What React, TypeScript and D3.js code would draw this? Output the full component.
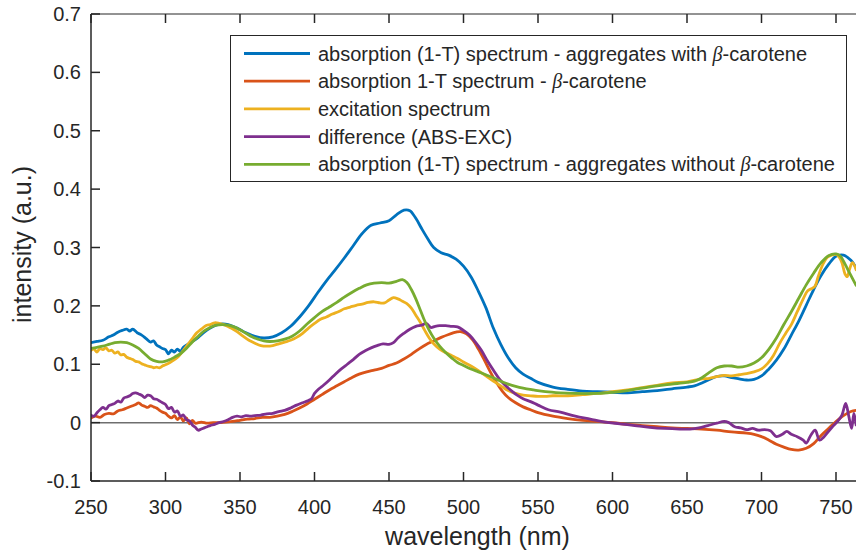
import React from "react";
import * as d3 from "d3";

const W = 856;
const H = 554;

// axis ticks
const xTicks = [250, 300, 350, 400, 450, 500, 550, 600, 650, 700, 750];
const yTicks = [-0.1, 0, 0.1, 0.2, 0.3, 0.4, 0.5, 0.6, 0.7];
const yTickLabels = ["-0.1", "0", "0.1", "0.2", "0.3", "0.4", "0.5", "0.6", "0.7"];

// legend entries (the beta is set in italics)
const legendPre = [
  "absorption (1-T) spectrum - aggregates with ",
  "absorption 1-T spectrum - ",
  "excitation spectrum",
  "difference (ABS-EXC)",
  "absorption (1-T) spectrum - aggregates without ",
];
const legendBeta = [true, true, false, false, true];
const seriesColors = ["#0072BD", "#D95319", "#EDB120", "#7E2F8E", "#77AC30"];

// [wavelength nm, intensity a.u.]
const absWithBeta: [number, number][] = [
  [250, 0.137], [254, 0.139], [258, 0.141], [262, 0.147], [265, 0.150], [268, 0.155],
  [271, 0.158], [274, 0.160], [276, 0.157], [278, 0.160], [281, 0.154], [284, 0.150],
  [287, 0.144], [290, 0.138], [292, 0.140], [294, 0.133], [296, 0.130], [298, 0.127],
  [300, 0.125], [302, 0.118], [304, 0.124], [306, 0.121], [308, 0.126], [310, 0.122],
  [312, 0.129], [315, 0.134], [318, 0.139], [322, 0.146], [326, 0.155], [330, 0.162],
  [334, 0.167], [338, 0.169], [342, 0.168], [348, 0.162], [354, 0.154], [360, 0.148],
  [366, 0.145], [372, 0.147], [378, 0.154], [384, 0.165], [390, 0.181], [396, 0.200],
  [402, 0.222], [408, 0.243], [414, 0.262], [420, 0.282], [426, 0.303], [432, 0.324],
  [438, 0.338], [444, 0.342], [450, 0.346], [455, 0.356], [460, 0.364], [464, 0.363],
  [468, 0.350], [472, 0.332], [476, 0.315], [480, 0.300], [485, 0.291], [490, 0.287],
  [495, 0.280], [500, 0.268], [505, 0.250], [510, 0.225], [515, 0.197], [520, 0.162],
  [525, 0.134], [530, 0.111], [535, 0.094], [540, 0.083], [545, 0.076], [550, 0.069],
  [560, 0.061], [570, 0.057], [580, 0.054], [590, 0.053], [600, 0.052], [610, 0.051],
  [620, 0.053], [630, 0.055], [640, 0.058], [650, 0.061], [655, 0.063], [660, 0.068],
  [665, 0.074], [670, 0.079], [675, 0.080], [680, 0.077], [685, 0.075], [690, 0.073],
  [695, 0.074], [700, 0.080], [705, 0.092], [710, 0.107], [715, 0.126], [720, 0.150],
  [725, 0.174], [730, 0.201], [735, 0.228], [740, 0.252], [745, 0.271], [750, 0.285],
  [755, 0.287], [760, 0.278], [763.5, 0.265],
];

const absBeta: [number, number][] = [
  [250, 0.008], [253, 0.011], [256, 0.009], [259, 0.014], [262, 0.016], [265, 0.015],
  [268, 0.020], [271, 0.022], [274, 0.025], [277, 0.028], [280, 0.031], [282, 0.034],
  [284, 0.030], [286, 0.028], [288, 0.026], [290, 0.029], [292, 0.027], [294, 0.025],
  [296, 0.021], [298, 0.018], [300, 0.016], [302, 0.011], [304, 0.008], [306, 0.012],
  [308, 0.005], [310, 0.010], [312, 0.003], [314, 0.008], [316, -0.002], [318, 0.004],
  [320, -0.001], [324, 0.001], [328, -0.001], [332, 0.0], [336, 0.0], [340, 0.001],
  [345, 0.002], [350, 0.004], [355, 0.006], [360, 0.007], [365, 0.009], [370, 0.009],
  [375, 0.011], [380, 0.014], [385, 0.019], [390, 0.025], [395, 0.032], [400, 0.040],
  [405, 0.048], [410, 0.056], [415, 0.063], [420, 0.070], [425, 0.077], [430, 0.083],
  [435, 0.087], [440, 0.090], [445, 0.093], [450, 0.098], [455, 0.102], [460, 0.109],
  [465, 0.117], [470, 0.126], [475, 0.134], [480, 0.140], [485, 0.146], [490, 0.151],
  [495, 0.155], [498, 0.156], [502, 0.152], [506, 0.142], [510, 0.126], [514, 0.107],
  [518, 0.087], [522, 0.069], [526, 0.054], [530, 0.043], [535, 0.034], [540, 0.027],
  [545, 0.022], [550, 0.017], [560, 0.011], [570, 0.007], [580, 0.004], [590, 0.002],
  [600, 0.0], [610, -0.003], [620, -0.005], [630, -0.007], [640, -0.009], [650, -0.010],
  [660, -0.011], [670, -0.013], [680, -0.016], [690, -0.018], [695, -0.020], [700, -0.024],
  [705, -0.030], [710, -0.037], [715, -0.042], [720, -0.046], [725, -0.047], [730, -0.044],
  [735, -0.036], [740, -0.022], [745, -0.010], [750, 0.002], [755, 0.012], [760, 0.019],
  [763.5, 0.021],
];

const excitation: [number, number][] = [
  [250, 0.124], [252, 0.126], [254, 0.121], [256, 0.127], [258, 0.125], [260, 0.128],
  [262, 0.123], [264, 0.124], [266, 0.119], [268, 0.121], [270, 0.116], [272, 0.117],
  [274, 0.112], [276, 0.110], [278, 0.108], [280, 0.105], [282, 0.104], [284, 0.101],
  [286, 0.099], [288, 0.097], [290, 0.096], [292, 0.094], [294, 0.095], [296, 0.094],
  [298, 0.097], [300, 0.099], [303, 0.103], [306, 0.108], [309, 0.114], [312, 0.124],
  [315, 0.134], [318, 0.144], [321, 0.154], [324, 0.160], [327, 0.166], [330, 0.168],
  [333, 0.171], [336, 0.170], [340, 0.167], [344, 0.162], [348, 0.156], [352, 0.148],
  [356, 0.141], [360, 0.136], [364, 0.132], [368, 0.131], [372, 0.132], [376, 0.135],
  [380, 0.138], [384, 0.141], [388, 0.146], [392, 0.153], [396, 0.162], [400, 0.170],
  [404, 0.177], [408, 0.181], [412, 0.186], [416, 0.190], [420, 0.195], [424, 0.198],
  [428, 0.201], [432, 0.203], [436, 0.206], [440, 0.207], [444, 0.205], [447, 0.205],
  [450, 0.210], [453, 0.214], [456, 0.212], [459, 0.208], [462, 0.204], [465, 0.196],
  [468, 0.184], [471, 0.172], [474, 0.158], [477, 0.145], [480, 0.135], [484, 0.126],
  [488, 0.120], [492, 0.115], [496, 0.110], [500, 0.104], [505, 0.097], [510, 0.089],
  [515, 0.080], [520, 0.071], [525, 0.063], [530, 0.055], [535, 0.050], [540, 0.047],
  [545, 0.046], [550, 0.045], [555, 0.045], [560, 0.046], [570, 0.046], [580, 0.048],
  [590, 0.050], [600, 0.053], [610, 0.056], [620, 0.060], [630, 0.064], [640, 0.068],
  [650, 0.070], [660, 0.075], [665, 0.076], [670, 0.079], [675, 0.081], [680, 0.080],
  [685, 0.082], [690, 0.084], [695, 0.087], [700, 0.092], [704, 0.101], [708, 0.115],
  [712, 0.135], [716, 0.152], [720, 0.168], [724, 0.190], [728, 0.212], [731, 0.226],
  [734, 0.230], [736, 0.234], [738, 0.250], [741, 0.270], [744, 0.283], [747, 0.287],
  [750, 0.288], [752, 0.284], [754, 0.274], [756, 0.255], [757.5, 0.250], [759, 0.262],
  [761, 0.274], [763.5, 0.262],
];

const difference: [number, number][] = [
  [250, 0.013], [252, 0.011], [254, 0.017], [256, 0.022], [258, 0.026], [260, 0.023],
  [262, 0.029], [264, 0.031], [266, 0.033], [268, 0.037], [270, 0.035], [272, 0.042],
  [274, 0.044], [276, 0.046], [278, 0.050], [280, 0.051], [282, 0.049], [284, 0.047],
  [286, 0.043], [288, 0.047], [290, 0.046], [292, 0.041], [294, 0.040], [296, 0.037],
  [298, 0.034], [300, 0.031], [302, 0.024], [304, 0.026], [306, 0.018], [308, 0.020],
  [310, 0.011], [312, 0.013], [314, 0.005], [316, 0.003], [318, -0.004], [320, -0.008],
  [322, -0.013], [324, -0.011], [326, -0.009], [328, -0.007], [330, -0.005], [333, -0.003],
  [336, 0.0], [339, 0.002], [342, 0.005], [345, 0.009], [348, 0.011], [351, 0.010],
  [354, 0.012], [357, 0.011], [360, 0.012], [364, 0.013], [368, 0.015], [372, 0.016],
  [376, 0.019], [380, 0.021], [384, 0.025], [388, 0.030], [392, 0.034], [396, 0.038],
  [398, 0.041], [400, 0.050], [403, 0.058], [406, 0.064], [410, 0.073], [414, 0.083],
  [418, 0.092], [422, 0.100], [426, 0.108], [430, 0.117], [434, 0.123], [438, 0.128],
  [442, 0.132], [446, 0.135], [450, 0.134], [453, 0.137], [456, 0.145], [460, 0.153],
  [464, 0.160], [468, 0.165], [472, 0.167], [475, 0.170], [478, 0.163], [481, 0.165],
  [484, 0.166], [488, 0.166], [492, 0.165], [496, 0.164], [500, 0.158], [504, 0.150],
  [508, 0.138], [512, 0.124], [516, 0.106], [520, 0.090], [524, 0.075], [528, 0.064],
  [532, 0.055], [536, 0.047], [540, 0.041], [545, 0.036], [550, 0.030], [557, 0.022],
  [565, 0.018], [575, 0.011], [585, 0.006], [595, 0.001], [605, -0.002], [615, -0.005],
  [625, -0.008], [635, -0.010], [645, -0.011], [652, -0.011], [658, -0.009], [664, -0.005],
  [670, -0.001], [675, 0.002], [678, 0.0], [682, -0.007], [686, -0.009], [690, -0.012],
  [694, -0.010], [698, -0.013], [702, -0.012], [706, -0.014], [710, -0.024], [714, -0.020],
  [717, -0.015], [720, -0.020], [724, -0.024], [728, -0.030], [730, -0.035], [733, -0.022],
  [736, -0.013], [739, -0.030], [742, -0.024], [745, -0.015], [748, -0.006], [751, 0.002],
  [754, 0.013], [756.5, 0.033], [758.5, 0.012], [760.5, -0.010], [762, 0.016], [763.5, -0.004],
];

const absWithoutBeta: [number, number][] = [
  [250, 0.127], [254, 0.129], [258, 0.131], [262, 0.134], [266, 0.137], [270, 0.138],
  [274, 0.137], [278, 0.133], [282, 0.127], [286, 0.118], [290, 0.109], [294, 0.105],
  [298, 0.104], [302, 0.107], [306, 0.112], [310, 0.118], [314, 0.127], [318, 0.138],
  [322, 0.148], [326, 0.157], [330, 0.163], [334, 0.167], [338, 0.168], [342, 0.167],
  [346, 0.164], [350, 0.159], [354, 0.153], [358, 0.147], [362, 0.143], [366, 0.140],
  [370, 0.139], [375, 0.140], [380, 0.143], [385, 0.148], [390, 0.157], [395, 0.169],
  [400, 0.180], [405, 0.190], [410, 0.198], [415, 0.206], [420, 0.215], [425, 0.223],
  [430, 0.230], [435, 0.236], [440, 0.239], [445, 0.240], [450, 0.239], [455, 0.242],
  [459, 0.245], [462, 0.240], [465, 0.228], [468, 0.212], [471, 0.193], [474, 0.174],
  [477, 0.158], [480, 0.145], [484, 0.131], [488, 0.120], [492, 0.111], [496, 0.103],
  [500, 0.098], [505, 0.092], [510, 0.087], [515, 0.082], [520, 0.077], [525, 0.071],
  [530, 0.066], [535, 0.062], [540, 0.059], [547, 0.056], [555, 0.053], [565, 0.051],
  [575, 0.050], [590, 0.050], [600, 0.052], [610, 0.055], [620, 0.059], [630, 0.063],
  [640, 0.066], [650, 0.069], [655, 0.071], [660, 0.077], [665, 0.086], [670, 0.094],
  [675, 0.097], [680, 0.097], [685, 0.095], [690, 0.097], [695, 0.102], [700, 0.111],
  [705, 0.126], [710, 0.145], [715, 0.168], [720, 0.190], [725, 0.213], [730, 0.236],
  [735, 0.256], [740, 0.274], [745, 0.286], [750, 0.289], [753, 0.285], [756, 0.272],
  [759, 0.257], [763.5, 0.235],
];

const seriesData = [absWithBeta, absBeta, excitation, difference, absWithoutBeta];

const FONT = "'Liberation Sans', Arial, Helvetica, sans-serif";
const INK = "#262626";

export default function App() {
  const left = 91;
  const right = 856;
  const top = 14;
  const bottom = 481;

  const x = d3.scaleLinear().domain([250, 750]).range([left, 836]);
  const y = d3.scaleLinear().domain([-0.1, 0.7]).range([bottom, top]);

  const line = d3
    .line<[number, number]>()
    .x((d) => x(d[0]))
    .y((d) => y(d[1]))
    .curve(d3.curveCatmullRom.alpha(0.5));

  const tickLen = 9;
  const legX = 230.5;
  const legY = 35.5;
  const legW = 616;
  const legH = 146;
  const rowY = (i: number) => 53.5 + i * 27.7;

  return (
    <svg
      width={W}
      height={H}
      viewBox={`0 0 ${W} ${H}`}
      style={{ position: "absolute", left: 0, top: 0, background: "#fff" }}
      fontFamily={FONT}
    >
      <defs>
        <clipPath id="plotArea">
          <rect x={left} y={top} width={right - left} height={bottom - top} />
        </clipPath>
      </defs>
      <rect x={0} y={0} width={W} height={H} fill="#fff" />

      {/* zero baseline */}
      <line x1={left} x2={right} y1={y(0)} y2={y(0)} stroke="#6e6e6e" strokeWidth={1.5} />

      {/* spectra */}
      <g clipPath="url(#plotArea)">
        {seriesData.map((s, i) => (
          <path
            key={i}
            d={line(s) ?? ""}
            fill="none"
            stroke={seriesColors[i]}
            strokeWidth={2.8}
            strokeLinejoin="round"
            strokeLinecap="round"
          />
        ))}
      </g>

      {/* box */}
      <line x1={left} x2={right} y1={top} y2={top} stroke={INK} strokeWidth={1} />
      <line x1={left} x2={right} y1={bottom} y2={bottom} stroke={INK} strokeWidth={1.5} />
      <line x1={left} x2={left} y1={top} y2={bottom} stroke={INK} strokeWidth={1.5} />

      {/* x ticks */}
      {xTicks.map((t) => (
        <g key={"x" + t}>
          <line x1={x(t)} x2={x(t)} y1={bottom} y2={bottom - tickLen} stroke={INK} strokeWidth={1.5} />
          <line x1={x(t)} x2={x(t)} y1={top} y2={top + tickLen} stroke={INK} strokeWidth={1.5} />
          <text x={x(t)} y={514} textAnchor="middle" fontSize={20} fill={INK}>
            {t}
          </text>
        </g>
      ))}

      {/* y ticks */}
      {yTicks.map((t, i) => (
        <g key={"y" + i}>
          <line x1={left} x2={left + tickLen} y1={y(t)} y2={y(t)} stroke={INK} strokeWidth={1.5} />
          <text x={81} y={y(t)} dy="0.35em" textAnchor="end" fontSize={20} fill={INK}>
            {yTickLabels[i]}
          </text>
        </g>
      ))}

      {/* axis titles */}
      <text x={(left + right) / 2 + 4} y={545} textAnchor="middle" fontSize={25} fill={INK}>
        wavelength (nm)
      </text>
      <text
        transform={`translate(31, ${(top + bottom) / 2 - 3}) rotate(-90)`}
        textAnchor="middle"
        fontSize={25}
        fill={INK}
      >
        intensity (a.u.)
      </text>

      {/* legend */}
      <rect x={legX} y={legY} width={legW} height={legH} fill="#fff" stroke={INK} strokeWidth={1} />
      {legendPre.map((txt, i) => (
        <g key={"leg" + i}>
          <line
            x1={244}
            x2={310}
            y1={rowY(i)}
            y2={rowY(i)}
            stroke={seriesColors[i]}
            strokeWidth={2.8}
          />
          <text x={318} y={rowY(i)} dy="0.35em" fontSize={20} fill={INK}>
            {txt}
            {legendBeta[i] && (
              <>
                <tspan fontFamily="'Liberation Serif', 'DejaVu Serif', serif" fontStyle="italic">
                  β
                </tspan>
                <tspan>-carotene</tspan>
              </>
            )}
          </text>
        </g>
      ))}
    </svg>
  );
}
